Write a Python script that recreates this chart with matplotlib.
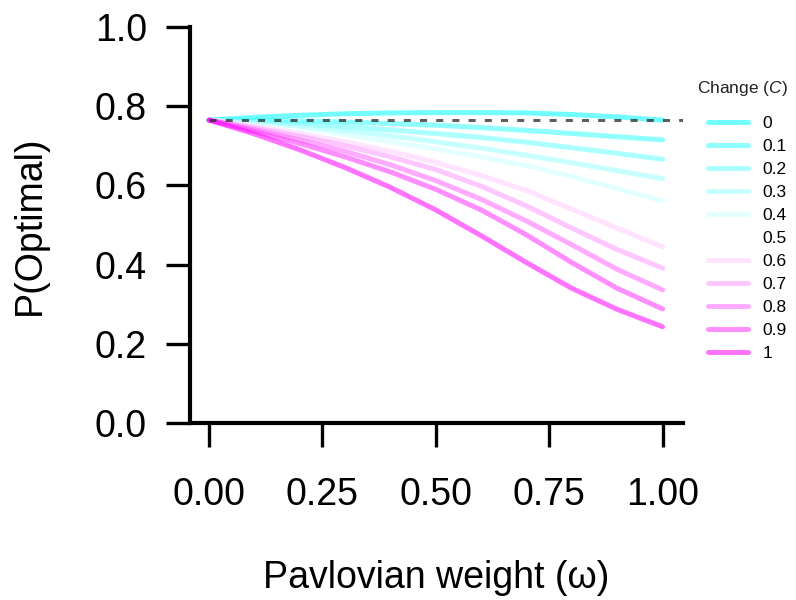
import numpy as np
import matplotlib
matplotlib.use("Agg")
import matplotlib.pyplot as plt

plt.rcParams["font.family"] = ["Liberation Sans", "DejaVu Sans"]
plt.rcParams["mathtext.fontset"] = "custom"
plt.rcParams["mathtext.rm"] = "Liberation Sans"
plt.rcParams["mathtext.it"] = "Liberation Sans:italic"

# Pavlovian weight grid
omega = [0.0, 0.1, 0.2, 0.3, 0.4, 0.5, 0.6, 0.7, 0.8, 0.9, 1.0]

# change level C
change = [0, 0.1, 0.2, 0.3, 0.4, 0.5, 0.6, 0.7, 0.8, 0.9, 1]
change_labels = ["0", "0.1", "0.2", "0.3", "0.4", "0.5", "0.6", "0.7", "0.8", "0.9", "1"]

# P(optimal) per change level
p_c00 = [0.765, 0.772, 0.777, 0.781, 0.783, 0.784, 0.784, 0.783, 0.779, 0.773, 0.765]
p_c01 = [0.765, 0.765, 0.763, 0.760, 0.756, 0.752, 0.746, 0.739, 0.731, 0.723, 0.715]
p_c02 = [0.765, 0.762, 0.756, 0.748, 0.740, 0.731, 0.721, 0.709, 0.695, 0.681, 0.666]
p_c03 = [0.765, 0.758, 0.749, 0.738, 0.725, 0.710, 0.694, 0.676, 0.657, 0.637, 0.617]
p_c04 = [0.765, 0.755, 0.742, 0.727, 0.710, 0.692, 0.672, 0.650, 0.622, 0.592, 0.561]
p_c05 = [0.765, 0.752, 0.736, 0.717, 0.697, 0.674, 0.648, 0.618, 0.584, 0.545, 0.503]
p_c06 = [0.765, 0.750, 0.731, 0.710, 0.686, 0.658, 0.625, 0.587, 0.540, 0.492, 0.445]
p_c07 = [0.765, 0.745, 0.724, 0.700, 0.672, 0.640, 0.598, 0.548, 0.492, 0.438, 0.391]
p_c08 = [0.765, 0.741, 0.715, 0.686, 0.652, 0.612, 0.565, 0.510, 0.450, 0.388, 0.336]
p_c09 = [0.765, 0.736, 0.706, 0.672, 0.634, 0.590, 0.538, 0.475, 0.405, 0.340, 0.288]
p_c10 = [0.765, 0.730, 0.690, 0.645, 0.595, 0.538, 0.473, 0.405, 0.340, 0.287, 0.243]
curves = [p_c00, p_c01, p_c02, p_c03, p_c04, p_c05, p_c06, p_c07, p_c08, p_c09, p_c10]

baseline = 0.765


def grad_colour(c):
    """cyan -> white -> magenta"""
    cyan = np.array([0.0, 1.0, 1.0])
    white = np.array([1.0, 1.0, 1.0])
    magenta = np.array([1.0, 0.0, 1.0])
    if c <= 0.5:
        t = c / 0.5
        return tuple(cyan * (1 - t) + white * t)
    t = (c - 0.5) / 0.5
    return tuple(white * (1 - t) + magenta * t)


fig = plt.figure(figsize=(7.96, 6.0), dpi=100)
ax = fig.add_axes([190 / 796, 177 / 600, 493 / 796, 396 / 600])

handles = []
for c, lab, ys in zip(change, change_labels, curves):
    (h,) = ax.plot(omega, ys, color=grad_colour(c), alpha=0.55, lw=3.6,
                   solid_capstyle="round", label=lab)
    handles.append(h)

ax.set_xlim(-0.042, 1.045)
ax.set_ylim(0, 1)
ax.hlines(baseline, omega[0], ax.get_xlim()[1], colors="#2a2a2a", alpha=0.75,
          lw=2.2, linestyles=(0, (2.3, 3.0)), zorder=5)

ax.set_xticks([0, 0.25, 0.5, 0.75, 1.0])
ax.set_xticklabels(["0.00", "0.25", "0.50", "0.75", "1.00"])
ax.set_yticks([0, 0.2, 0.4, 0.6, 0.8, 1.0])
ax.set_yticklabels(["0.0", "0.2", "0.4", "0.6", "0.8", "1.0"])

for side in ["top", "right"]:
    ax.spines[side].set_visible(False)
for side in ["left", "bottom"]:
    ax.spines[side].set_linewidth(3)
ax.tick_params(axis="both", direction="out", length=17, width=2.4,
               labelsize=27, colors="black")
ax.tick_params(axis="y", pad=14)
ax.tick_params(axis="x", pad=22)

ax.set_xlabel("Pavlovian weight (ω)", fontsize=27, labelpad=34)
ax.set_ylabel("P(Optimal)", fontsize=27, labelpad=34)

fig.text(697 / 796, 1 - 88 / 600, "Change ($C$)", fontsize=12.5,
         va="center", ha="left", color="#222222")
fig.legend(handles=handles, loc="upper left", bbox_to_anchor=(708 / 796, 1 - 116 / 600),
           frameon=False, fontsize=12.5, handlelength=2.3, handletextpad=0.85,
           labelspacing=0.45, borderpad=0, borderaxespad=0)

fig.savefig("out.png", dpi=100)
